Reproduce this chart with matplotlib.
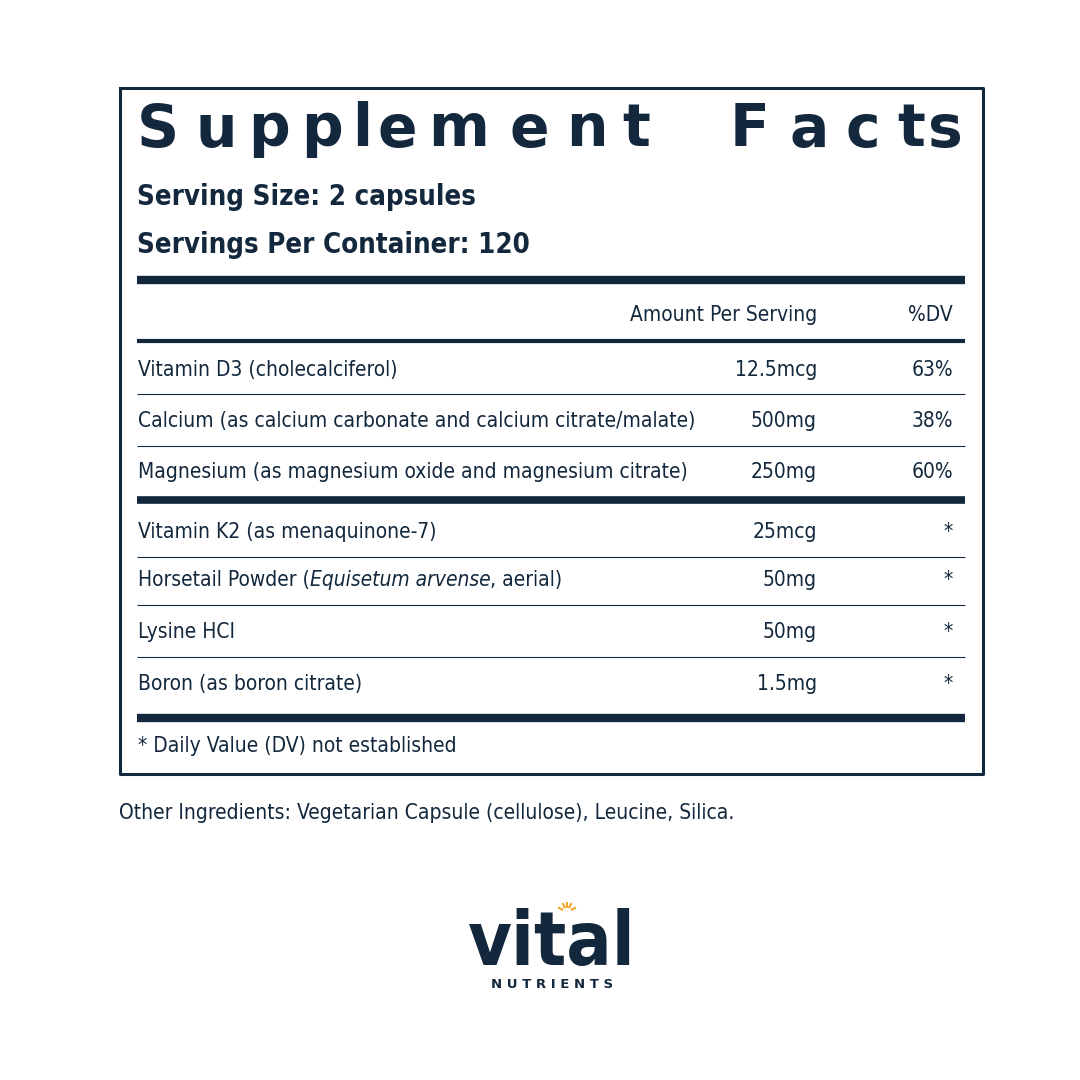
import matplotlib.pyplot as plt
from matplotlib import font_manager
from matplotlib.font_manager import FontProperties

navy = '#13283d'

# look for a condensed face; otherwise plain DejaVu Sans
cond = [f for f in font_manager.fontManager.ttflist
        if 'Condensed' in f.fname and 'DejaVuSans' in f.fname.replace(' ', '')]
reg_file = [f.fname for f in cond if f.weight in (400, 'normal') and f.style == 'normal']
bold_file = [f.fname for f in cond if f.weight in (700, 'bold') and f.style == 'normal']
obl_file = [f.fname for f in cond if f.weight in (400, 'normal') and f.style != 'normal']

def fp(size, bold=False, italic=False):
    files = obl_file if italic else (bold_file if bold else reg_file)
    if files:
        return FontProperties(fname=files[0], size=size)
    return FontProperties(family='DejaVu Sans', size=size,
                          weight='bold' if bold else 'normal',
                          style='italic' if italic else 'normal')

title = "Supplement Facts"
serving_size = "Serving Size: 2 capsules"
servings = "Servings Per Container: 120"
nutrients = ["Vitamin D3 (cholecalciferol)",
             "Calcium (as calcium carbonate and calcium citrate/malate)",
             "Magnesium (as magnesium oxide and magnesium citrate)",
             "Vitamin K2 (as menaquinone-7)",
             ["Horsetail Powder (", "Equisetum arvense", ", aerial)"],
             "Lysine HCI",
             "Boron (as boron citrate)"]
amounts = ["12.5mcg", "500mg", "250mg", "25mcg", "50mg", "50mg", "1.5mg"]
dvs = ["63%", "38%", "60%", "*", "*", "*", "*"]
row_y = [370, 421, 472, 532, 580, 632, 684]
footnote = "* Daily Value (DV) not established"
other = "Other Ingredients: Vegetarian Capsule (cellulose), Leucine, Silica."

fig = plt.figure(figsize=(10.8, 10.8), dpi=100)
ax = fig.add_axes([0, 0, 1, 1])
ax.set_xlim(0, 1080)
ax.set_ylim(1080, 0)
ax.axis('off')
renderer = fig.canvas.get_renderer()

def width_of(s, prop):
    t = ax.text(0, 0, s, fontproperties=prop)
    w = t.get_window_extent(renderer).width
    t.remove()
    return w

# choose body size so the calcium line spans about 555 px like the label
body = 17 * 555 / width_of(nutrients[1], fp(17))
head = 22 * 338 / width_of(serving_size, fp(22, bold=True))

ax.plot([120, 983, 983, 120, 120], [88, 88, 774, 774, 88], color=navy, lw=2.2)

xs = [137, 195, 248, 301, 352, 378, 428, 510, 566, 622, 0, 730, 790, 845, 897, 928]
for ch, x in zip(title, xs):
    if ch != ' ':
        ax.text(x, 130, ch, fontsize=42, fontweight='bold', color=navy,
                ha='left', va='center', family='DejaVu Sans')

ax.text(137, 197, serving_size, fontproperties=fp(head, bold=True), color=navy, va='center')
ax.text(137, 245, servings, fontproperties=fp(head, bold=True), color=navy, va='center')

def hline(y, lw):
    ax.plot([137, 965], [y, y], color=navy, lw=lw, solid_capstyle='butt')

hline(280, 6)
ax.text(817, 315, "Amount Per Serving", fontproperties=fp(body), color=navy, ha='right', va='center')
ax.text(953, 315, "%DV", fontproperties=fp(body), color=navy, ha='right', va='center')
hline(341, 3)

for n, a, d, y in zip(nutrients, amounts, dvs, row_y):
    if isinstance(n, list):
        x = 138
        for k, part in enumerate(n):
            prop = fp(body, italic=(k == 1))
            ax.text(x, y, part, fontproperties=prop, color=navy, va='center')
            x += width_of(part, prop)
    else:
        ax.text(138, y, n, fontproperties=fp(body), color=navy, va='center')
    ax.text(817, y, a, fontproperties=fp(body), color=navy, ha='right', va='center')
    ax.text(953, y, d, fontproperties=fp(body), color=navy, ha='right', va='center')

for y in [394, 446, 557, 605, 657]:
    hline(y, 0.8)
hline(500, 5.5)
hline(718, 6)

ax.text(138, 746, footnote, fontproperties=fp(body), color=navy, va='center')
ax.text(119, 813, other, fontproperties=fp(body), color=navy, va='center')

# logo
ax.text(552, 945, "vital", fontproperties=fp(54, bold=True), color=navy, ha='center', va='center')
ax.text(552, 984, "N U T R I E N T S", fontsize=9.5, fontweight='bold', color=navy,
        ha='center', va='center', family='DejaVu Sans')
for dx, dy in [(-8, -4), (-4, -8), (0, -9), (4, -8), (8, -4)]:
    ax.plot([567 + dx * 0.6, 567 + dx], [912 + dy * 0.6, 912 + dy], color='#f2a623', lw=1.5)

fig.savefig('out.png', dpi=100, facecolor='white')
